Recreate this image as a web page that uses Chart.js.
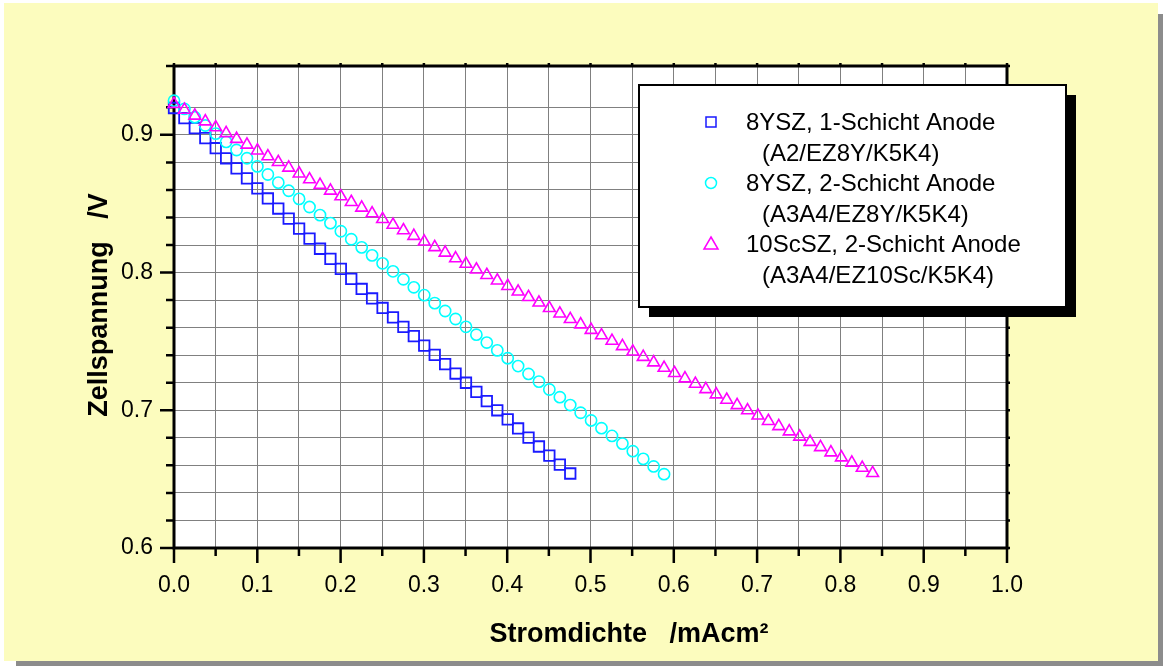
<!DOCTYPE html>
<html>
<head>
<meta charset="utf-8">
<script src="https://cdn.jsdelivr.net/npm/chart.js@4.4.1/dist/chart.umd.min.js"></script>
<style>
  body { margin: 0; background: #fff; }
  #schatten { position: absolute; left: 16px; top: 14px; width: 1147px; height: 652px; background: #8c8c8c; }
  #flaeche { position: absolute; left: 4px; top: 3px; width: 1154px; height: 658px; background: #fcfcbe; }
  #diagramm { position: absolute; left: 0; top: 0; }
</style>
</head>
<body>
<div id="schatten"></div>
<div id="flaeche"></div>
<canvas id="diagramm" width="1163" height="666"></canvas>
<script>
// Stromdichte /mAcm² (gemeinsame Messpunkte)
const stromdichte = [0, 0.0125, 0.025, 0.0376, 0.0501, 0.0626, 0.0751, 0.0876, 0.1001, 0.1127,
  0.1252, 0.1377, 0.1502, 0.1627, 0.1753, 0.1878, 0.2003, 0.2128, 0.2253, 0.2378,
  0.2504, 0.2629, 0.2754, 0.2879, 0.3004, 0.313, 0.3255, 0.338, 0.3505, 0.363,
  0.3755, 0.3881, 0.4006, 0.4131, 0.4256, 0.4381, 0.4506, 0.4632, 0.4757, 0.4882,
  0.5007, 0.5132, 0.5258, 0.5383, 0.5508, 0.5633, 0.5758, 0.5883, 0.6009, 0.6134,
  0.6259, 0.6384, 0.6509, 0.6635, 0.676, 0.6885, 0.701, 0.7135, 0.726, 0.7386,
  0.7511, 0.7636, 0.7761, 0.7886, 0.8012, 0.8137, 0.8262, 0.8387];

// Zellspannung /V
const spannung8YSZ1 = [0.9195, 0.9122, 0.9049, 0.8976, 0.8903, 0.8830, 0.8757, 0.8684, 0.8611, 0.8538,
  0.8465, 0.8392, 0.8319, 0.8246, 0.8173, 0.8100, 0.8027, 0.7954, 0.7881, 0.7812,
  0.7743, 0.7675, 0.7606, 0.7538, 0.7470, 0.7402, 0.7335, 0.7267, 0.7200, 0.7134,
  0.7067, 0.7000, 0.6934, 0.6868, 0.6802, 0.6737, 0.6671, 0.6606, 0.6541];

const spannung8YSZ2 = [0.9248, 0.9188, 0.9128, 0.9068, 0.9009, 0.8949, 0.8890, 0.8830, 0.8771, 0.8712,
  0.8653, 0.8594, 0.8535, 0.8476, 0.8417, 0.8359, 0.8300, 0.8242, 0.8183, 0.8125,
  0.8067, 0.8009, 0.7951, 0.7893, 0.7836, 0.7778, 0.7721, 0.7663, 0.7606, 0.7549,
  0.7492, 0.7435, 0.7378, 0.7321, 0.7264, 0.7208, 0.7151, 0.7095, 0.7038, 0.6982,
  0.6926, 0.6870, 0.6814, 0.6758, 0.6703, 0.6647, 0.6592, 0.6536];

const spannung10ScSZ = [0.9224, 0.9182, 0.9139, 0.9097, 0.9054, 0.9012, 0.8970, 0.8928, 0.8886, 0.8844,
  0.8802, 0.8761, 0.8719, 0.8677, 0.8636, 0.8594, 0.8553, 0.8512, 0.8471, 0.8430,
  0.8388, 0.8347, 0.8307, 0.8266, 0.8225, 0.8184, 0.8144, 0.8103, 0.8063, 0.8022,
  0.7982, 0.7942, 0.7902, 0.7862, 0.7822, 0.7782, 0.7742, 0.7702, 0.7662, 0.7623,
  0.7583, 0.7544, 0.7504, 0.7465, 0.7426, 0.7387, 0.7347, 0.7308, 0.7270, 0.7231,
  0.7192, 0.7153, 0.7115, 0.7076, 0.7037, 0.6999, 0.6961, 0.6922, 0.6884, 0.6846,
  0.6808, 0.6770, 0.6732, 0.6694, 0.6657, 0.6619, 0.6582, 0.6544];

const legendeZeile1 = ["8YSZ, 1-Schicht Anode", "8YSZ, 2-Schicht Anode", "10ScSZ, 2-Schicht Anode"];
const legendeZeile2 = ["(A2/EZ8Y/K5K4)", "(A3A4/EZ8Y/K5K4)", "(A3A4/EZ10Sc/K5K4)"];
const titelX = "Stromdichte   /mAcm²";
const titelY = "Zellspannung   /V";

const schrift = "'Liberation Sans', Arial, sans-serif";

function punkte(werte) {
  return werte.map((v, i) => ({ x: stromdichte[i], y: v }));
}

// Rahmen + Haupt-/Nebenstriche, weisse Flaeche hinter dem Gitter
const achsenRahmen = {
  id: 'achsenRahmen',
  beforeDatasetsDraw(chart) {
    const { ctx, chartArea: a, scales: { x, y } } = chart;
    ctx.save();
    ctx.globalCompositeOperation = 'destination-over';
    ctx.fillStyle = '#ffffff';
    ctx.fillRect(a.left, a.top, a.right - a.left, a.bottom - a.top);
    ctx.restore();

    ctx.save();
    ctx.strokeStyle = '#000';
    ctx.lineWidth = 2.5;
    x.ticks.forEach(t => {
      const px = x.getPixelForValue(t.value);
      const lang = t.label !== '' ? 15 : 8;
      ctx.beginPath();
      ctx.moveTo(px, a.bottom);
      ctx.lineTo(px, a.bottom + lang);
      ctx.moveTo(px, a.top);
      ctx.lineTo(px, a.top - 3);
      ctx.stroke();
    });
    y.ticks.forEach(t => {
      const py = y.getPixelForValue(t.value);
      const lang = t.label !== '' ? 14 : 8;
      ctx.beginPath();
      ctx.moveTo(a.left, py);
      ctx.lineTo(a.left - lang, py);
      ctx.moveTo(a.right, py);
      ctx.lineTo(a.right + 3, py);
      ctx.stroke();
    });
    ctx.lineWidth = 3;
    ctx.strokeRect(a.left, a.top, a.right - a.left, a.bottom - a.top);
    ctx.restore();
  }
};

// Achsentitel
const achsenTitel = {
  id: 'achsenTitel',
  afterDraw(chart) {
    const { ctx } = chart;
    ctx.save();
    ctx.fillStyle = '#000';
    ctx.font = "bold 27px " + schrift;
    ctx.textAlign = 'center';
    ctx.textBaseline = 'middle';
    ctx.fillText(titelX, 629, 635);
    ctx.translate(100, 305);
    ctx.rotate(-Math.PI / 2);
    ctx.fillText(titelY, 0, 0);
    ctx.restore();
  }
};

// Legende mit Schatten
const legendeKasten = {
  id: 'legendeKasten',
  afterDraw(chart) {
    const { ctx } = chart;
    const bx = 639, by = 85, bw = 427, bh = 222;
    ctx.save();
    ctx.fillStyle = '#000';
    ctx.fillRect(bx + 10, by + 10, bw, bh);
    ctx.fillStyle = '#fff';
    ctx.fillRect(bx, by, bw, bh);
    ctx.strokeStyle = '#000';
    ctx.lineWidth = 2;
    ctx.strokeRect(bx, by, bw, bh);

    ctx.font = "24px " + schrift;
    ctx.textBaseline = 'middle';
    ctx.textAlign = 'left';
    chart.data.datasets.forEach((ds, i) => {
      const zy = 123 + i * 61;
      ctx.fillStyle = '#000';
      ctx.fillText(legendeZeile1[i], 746, zy);
      ctx.fillText(legendeZeile2[i], 762, zy + 31);
      const mx = 711, my = zy - 1;
      ctx.strokeStyle = ds.borderColor;
      ctx.lineWidth = 1.5;
      ctx.beginPath();
      if (ds.pointStyle === 'rect') {
        ctx.rect(mx - 5, my - 5, 10, 10);
      } else if (ds.pointStyle === 'circle') {
        ctx.arc(mx, my, 5.5, 0, Math.PI * 2);
      } else {
        ctx.moveTo(mx, my - 7);
        ctx.lineTo(mx + 7, my + 5);
        ctx.lineTo(mx - 7, my + 5);
        ctx.closePath();
      }
      ctx.stroke();
    });
    ctx.restore();
  }
};

const ctx = document.getElementById('diagramm').getContext('2d');

new Chart(ctx, {
  type: 'scatter',
  data: {
    datasets: [
      {
        label: legendeZeile1[0],
        data: punkte(spannung8YSZ1),
        pointStyle: 'rect',
        pointRadius: 7.4,
        borderColor: '#1a1aff',
        backgroundColor: 'rgba(0,0,0,0)',
        borderWidth: 1.8,
        clip: false,
        order: 3
      },
      {
        label: legendeZeile1[1],
        data: punkte(spannung8YSZ2),
        pointStyle: 'circle',
        pointRadius: 5.6,
        borderColor: '#00ffff',
        backgroundColor: 'rgba(0,0,0,0)',
        borderWidth: 1.6,
        clip: false,
        order: 2
      },
      {
        label: legendeZeile1[2],
        data: punkte(spannung10ScSZ),
        pointStyle: 'triangle',
        pointRadius: 6.8,
        borderColor: '#ff00ff',
        backgroundColor: 'rgba(0,0,0,0)',
        borderWidth: 1.6,
        clip: false,
        order: 1
      }
    ]
  },
  options: {
    responsive: false,
    animation: false,
    events: [],
    layout: { padding: { left: 0, top: 66, right: 156, bottom: 0 } },
    plugins: {
      legend: { display: false },
      tooltip: { enabled: false }
    },
    scales: {
      x: {
        type: 'linear',
        min: 0,
        max: 1.0,
        afterFit: s => { s.height = 118; },
        border: { display: false },
        grid: { color: '#808080', lineWidth: 1, drawTicks: false },
        ticks: {
          stepSize: 0.05,
          autoSkip: false,
          maxRotation: 0,
          padding: 24,
          color: '#000',
          font: { family: schrift, size: 23 },
          callback: v => Math.abs(v * 10 - Math.round(v * 10)) < 1e-6 ? v.toFixed(1) : ''
        }
      },
      y: {
        type: 'linear',
        min: 0.6,
        max: 0.95,
        afterFit: s => { s.width = 174; },
        border: { display: false },
        grid: { color: '#808080', lineWidth: 1, drawTicks: false },
        ticks: {
          stepSize: 0.02,
          autoSkip: false,
          padding: 21,
          color: '#000',
          font: { family: schrift, size: 23 },
          callback: v => Math.abs(v * 10 - Math.round(v * 10)) < 1e-6 ? v.toFixed(1) : ''
        }
      }
    }
  },
  plugins: [achsenRahmen, achsenTitel, legendeKasten]
});
</script>
</body>
</html>
